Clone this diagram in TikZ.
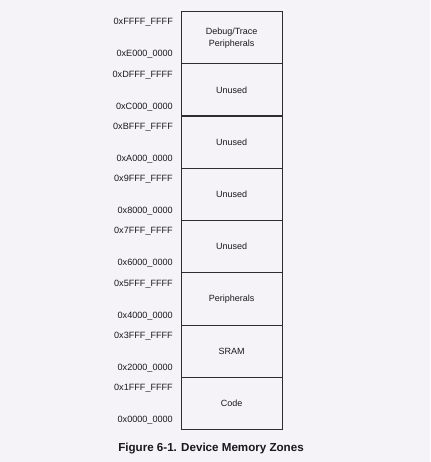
\documentclass[tikz,border=0pt]{standalone}
\usepackage{fontspec}
\setmainfont{Liberation Sans}
\definecolor{bgc}{RGB}{245,243,248}
\definecolor{linec}{RGB}{45,45,45}
\definecolor{txtc}{RGB}{25,25,25}
\begin{document}
\begin{tikzpicture}[x=1pt,y=-1pt,
  zone/.style={draw=linec,line width=1.2pt,minimum width=101pt,minimum height=52.25pt,inner sep=0pt,anchor=north west,font=\fontsize{9}{12}\selectfont,text=txtc,align=center},
  addr/.style={anchor=east,inner sep=0pt,font=\fontsize{9.1}{10}\selectfont,text=txtc}]
\fill[bgc] (0,0) rectangle (430,462);
\useasboundingbox (0,0) rectangle (430,462);
\foreach \i/\txt/\hi/\lo in {0/{Debug/Trace\\Peripherals}/0xFFFF\_FFFF/0xE000\_0000,
  1/Unused/0xDFFF\_FFFF/0xC000\_0000,
  2/Unused/0xBFFF\_FFFF/0xA000\_0000,
  3/Unused/0x9FFF\_FFFF/0x8000\_0000,
  4/Unused/0x7FFF\_FFFF/0x6000\_0000,
  5/Peripherals/0x5FFF\_FFFF/0x4000\_0000,
  6/SRAM/0x3FFF\_FFFF/0x2000\_0000,
  7/Code/0x1FFF\_FFFF/0x0000\_0000} {
  \node[zone] (z\i) at (180.5,{11+52.25*\i}) {\txt};
  \node[addr] (h\i) at (173,{11+52.25*\i+11.5}) {\hi};
  \node[addr] (l\i) at (173,{11+52.25*\i+43.5}) {\lo};
}
\node[font=\bfseries\fontsize{11.6}{14}\selectfont,text=txtc] (cap) at (211,449) {Figure 6-1. Device Memory Zones};
\end{tikzpicture}
\end{document}
